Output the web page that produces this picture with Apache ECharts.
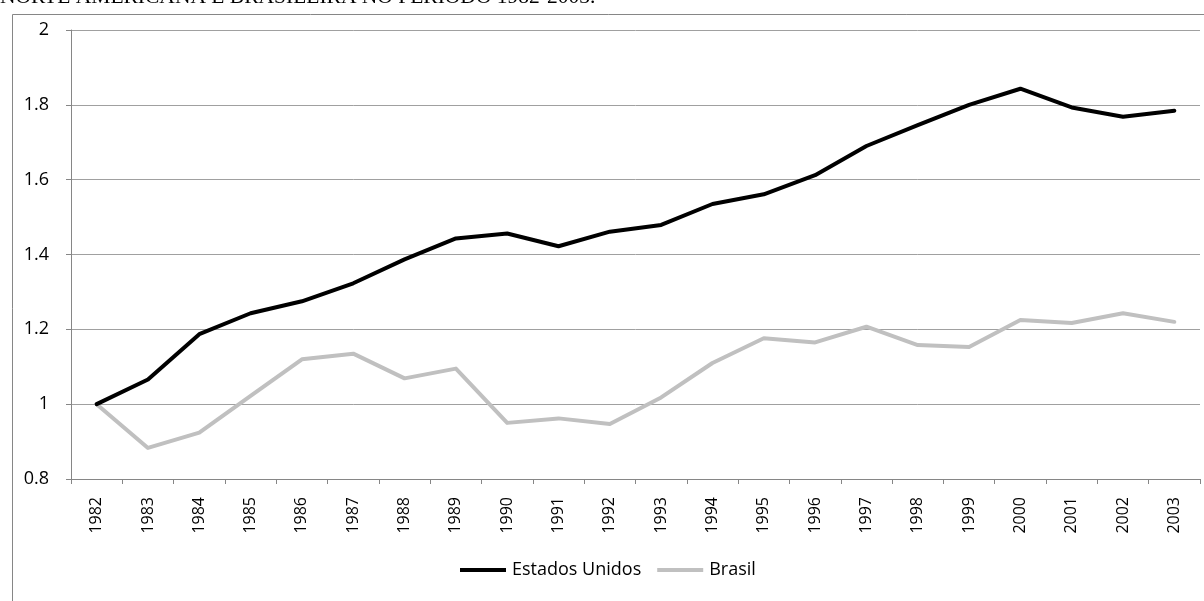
<!DOCTYPE html>
<html>
<head>
<meta charset="utf-8">
<title>Estados Unidos e Brasil 1982-2003</title>
<script src="https://cdn.jsdelivr.net/npm/echarts@6/dist/echarts.min.js"></script>
<style>
  html, body { margin: 0; padding: 0; background: #ffffff; }
  #chart { width: 1204px; height: 601px; }
</style>
</head>
<body>
<div id="chart"></div>
<script>
// Years on the category axis
const years = ['1982','1983','1984','1985','1986','1987','1988','1989','1990','1991','1992',
               '1993','1994','1995','1996','1997','1998','1999','2000','2001','2002','2003'];

// Index values (1982 = 1)
const estadosUnidos = [1.000, 1.066, 1.187, 1.243, 1.275, 1.323, 1.387, 1.443, 1.456, 1.422, 1.461,
                       1.479, 1.535, 1.561, 1.612, 1.690, 1.746, 1.800, 1.843, 1.793, 1.768, 1.784];
const brasil = [1.000, 0.883, 0.924, 1.022, 1.120, 1.135, 1.069, 1.095, 0.950, 0.962, 0.947,
                1.018, 1.110, 1.176, 1.165, 1.207, 1.158, 1.153, 1.225, 1.217, 1.243, 1.220];

// Value axis range
const yMin = 0.8, yMax = 2, yStep = 0.2;

const seriesNames = ['Estados Unidos', 'Brasil'];
const seriesColors = ['#000000', '#c0c0c0'];
const titleText = 'NORTE AMERICANA E BRASILEIRA NO PERÍODO 1982-2003.';

const chart = echarts.init(document.getElementById('chart'), null, { renderer: 'canvas' });

const sans = '"Open Sans", "Noto Sans", sans-serif';
const axisGray = '#868686';

chart.setOption({
  animation: false,
  backgroundColor: '#ffffff',
  graphic: [
    {
      type: 'rect',
      left: 10, top: 12,
      shape: { x: 0, y: 0, width: 1210, height: 620 },
      style: { fill: 'none', stroke: axisGray, lineWidth: 1 },
      silent: true
    },
    {
      type: 'text',
      x: 0, y: -3,
      style: {
        text: titleText,
        font: '21.5px "Liberation Serif", "DejaVu Serif", serif',
        fill: '#000000',
        textAlign: 'left',
        textVerticalAlign: 'middle'
      },
      silent: true
    }
  ],
  grid: { left: 71, right: 4, top: 30, bottom: 122, containLabel: false },
  legend: {
    data: seriesNames.map(function (n) { return { name: n, icon: 'rect' }; }),
    left: 455,
    top: 556,
    itemWidth: 46,
    itemHeight: 4,
    itemGap: 16,
    textStyle: { fontFamily: sans, fontSize: 18, color: '#000000', padding: [0, 0, 0, 1] }
  },
  xAxis: {
    type: 'category',
    data: years,
    boundaryGap: true,
    axisLine: { show: true, lineStyle: { color: axisGray, width: 1 } },
    axisTick: { show: true, length: 5, inside: false, alignWithLabel: false,
                lineStyle: { color: axisGray, width: 1 } },
    axisLabel: { rotate: 90, margin: 18, fontFamily: sans, fontSize: 16, color: '#000000', interval: 0 },
    splitLine: { show: false }
  },
  yAxis: {
    type: 'value',
    min: yMin, max: yMax, interval: yStep,
    axisLine: { show: true, lineStyle: { color: axisGray, width: 1 } },
    axisTick: { show: true, length: 5, inside: false, lineStyle: { color: axisGray, width: 1 } },
    axisLabel: {
      margin: 22, fontFamily: sans, fontSize: 18, color: '#000000',
      formatter: function (v) { return String(+v.toFixed(1)); }
    },
    splitLine: { show: true, lineStyle: { color: '#a0a0a0', width: 1 } }
  },
  series: [
    {
      name: seriesNames[0],
      type: 'line',
      data: estadosUnidos,
      symbol: 'none',
      color: seriesColors[0],
      lineStyle: { color: seriesColors[0], width: 4, cap: 'round', join: 'round' },
      z: 3
    },
    {
      name: seriesNames[1],
      type: 'line',
      data: brasil,
      symbol: 'none',
      color: seriesColors[1],
      lineStyle: { color: seriesColors[1], width: 4, cap: 'round', join: 'round' },
      z: 2
    }
  ]
});
</script>
</body>
</html>
